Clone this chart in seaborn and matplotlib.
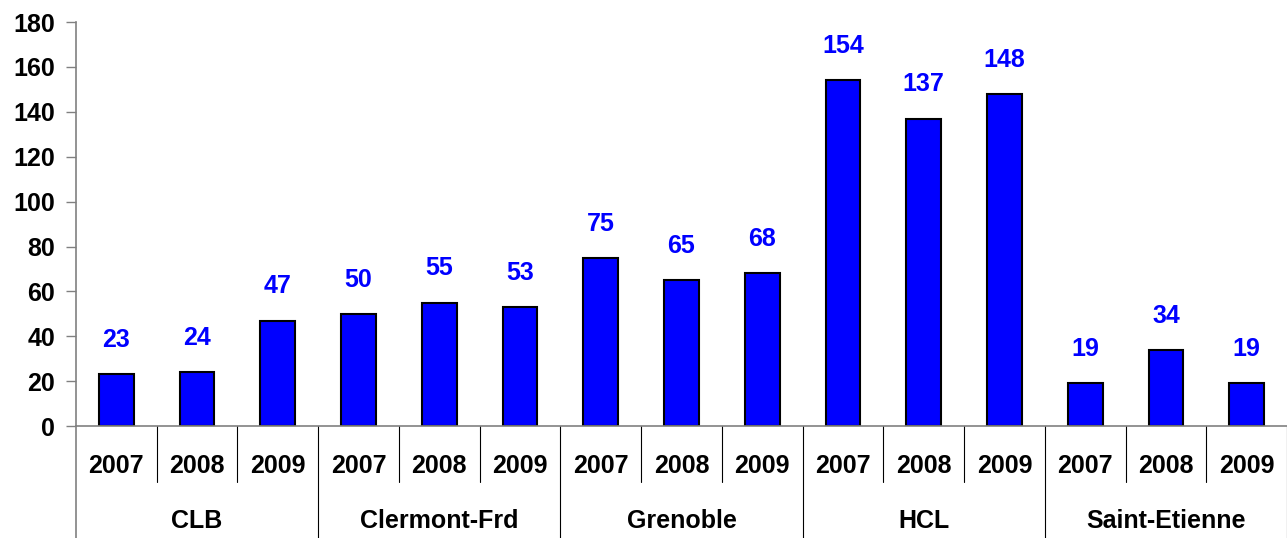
import pandas as pd
import numpy as np
import matplotlib
matplotlib.use("Agg")
import matplotlib.pyplot as plt
import matplotlib.transforms as mtransforms
import seaborn as sns


# ==============================
# Data
# ==============================

sites = ["CLB", "Clermont-Frd", "Grenoble", "HCL", "Saint-Etienne"]
years = ["2007", "2008", "2009"]
values = [
    23, 24, 47,     # CLB
    50, 55, 53,     # Clermont-Frd
    75, 65, 68,     # Grenoble
    154, 137, 148,  # HCL
    19, 34, 19,     # Saint-Etienne
]

df = pd.DataFrame({
    "site": np.repeat(sites, len(years)),
    "year": years * len(sites),
    "value": values,
})
df["slot"] = df["site"] + " " + df["year"]


# ==============================
# Style
# ==============================

sns.set_theme(style="white")
plt.rcParams["font.family"] = ["Liberation Sans", "DejaVu Sans"]
plt.rcParams["font.weight"] = "bold"
FS = 18

fig = plt.figure(figsize=(12.87, 5.38), dpi=100)
ax = fig.add_axes([0.059, 0.208, 0.941, 0.751])

sns.barplot(data=df, x="slot", y="value", order=df["slot"], color="#0000FF",
            saturation=1, width=0.43, edgecolor="black", linewidth=1.5, ax=ax)

ax.set_xlim(-0.5, len(df) - 0.5)
ax.set_ylim(0, 180)
ax.set_yticks(range(0, 181, 20))
ax.set_xlabel("")
ax.set_ylabel("")

# year labels as tick labels
ax.set_xticks(range(len(df)))
ax.set_xticklabels(df["year"], fontsize=FS, fontweight="bold", color="black")
ax.tick_params(axis="x", length=0, pad=20)
ax.tick_params(axis="y", length=7, width=1, color="#808080", direction="out",
               labelsize=FS, labelcolor="black", left=True, pad=8)
for lab in ax.get_yticklabels():
    lab.set_fontweight("bold")

for side in ["top", "right"]:
    ax.spines[side].set_visible(False)
for side in ["left", "bottom"]:
    ax.spines[side].set_color("#808080")
    ax.spines[side].set_linewidth(1.2)

# value labels above bars
for i, v in enumerate(df["value"]):
    ax.annotate(str(v), (i, v), xytext=(0, 16), textcoords="offset points",
                ha="center", va="bottom", fontsize=FS, fontweight="bold",
                color="#0000FF")

# category separators and group labels
trans = mtransforms.blended_transform_factory(ax.transData, ax.transAxes)
n_years = len(years)
for k in range(len(df) + 1):
    x = k - 0.5
    bottom = -0.277 if k % n_years == 0 else -0.139
    color = "#808080" if k == 0 else "black"
    ax.plot([x, x], [0, bottom], transform=trans, color=color,
            linewidth=1.2 if k == 0 else 0.8, clip_on=False)

for g, site in enumerate(sites):
    ax.text(g * n_years + 1, -0.235, site, transform=trans, ha="center",
            va="center", fontsize=FS, fontweight="bold", color="black")

fig.savefig("out.png", dpi=100)
